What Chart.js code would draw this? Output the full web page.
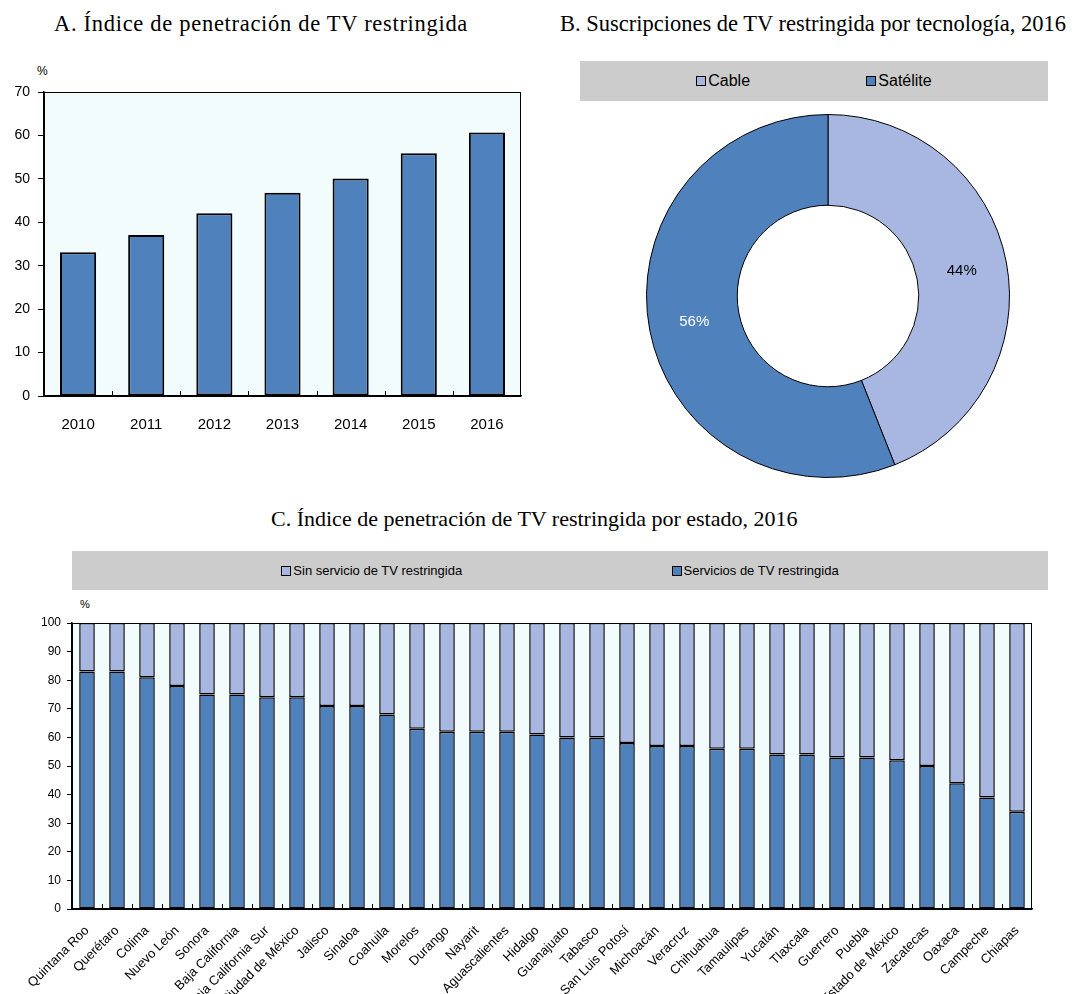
<!DOCTYPE html>
<html lang="es">
<head>
<meta charset="utf-8">
<title>TV restringida</title>
<script src="https://cdn.jsdelivr.net/npm/chart.js@4.4.1/dist/chart.umd.min.js"></script>
<style>
  body { margin: 0; width: 1072px; height: 994px; position: relative; background: #fff; overflow: hidden;
         font-family: "Liberation Sans", Arial, sans-serif; color: #000; }
  .titulo { position: absolute; font-family: "Liberation Serif", "Times New Roman", serif; font-size: 22.5px; white-space: nowrap; }
  .pct { position: absolute; font-size: 12px; }
  .leyenda { position: absolute; background: #cccccc; display: flex; justify-content: space-evenly; align-items: center; }
  .leyenda .item { display: flex; align-items: center; white-space: nowrap; }
  .leyenda i { display: inline-block; width: 8px; height: 8px; border: 1px solid #000; margin-right: 2px; }
  canvas { position: absolute; }
</style>
</head>
<body>
<div class="titulo" style="left:54px; top:11px; letter-spacing:0.7px;">A. Índice de penetración de TV restringida</div>
<div class="titulo" style="left:560px; top:11px;">B. Suscripciones de TV restringida por tecnología, 2016</div>
<div class="titulo" style="left:271px; top:506px; font-size:22px;">C. Índice de penetración de TV restringida por estado, 2016</div>

<div class="pct" style="left:37px; top:64px;">%</div>
<canvas id="graficaA" width="540" height="380" style="left:0; top:60px;"></canvas>

<div id="leyendaB" class="leyenda" style="left:580px; top:61px; width:468px; height:40px; font-size:16px;"></div>
<canvas id="graficaB" width="368" height="368" style="left:644px; top:112px;"></canvas>

<div id="leyendaC" class="leyenda" style="left:72px; top:551px; width:976px; height:39px; font-size:13px;"></div>
<div class="pct" style="left:80px; top:598px; font-size:11px;">%</div>
<canvas id="graficaC" width="1072" height="404" style="left:0; top:590px;"></canvas>

<script>
// Dades del gràfic A
const anios = ['2010', '2011', '2012', '2013', '2014', '2015', '2016'];
const penetracion = [33.1, 37.1, 42.1, 46.8, 50.1, 55.9, 60.7];

// Dades del gràfic B
const tecnologias = ['Cable', 'Satélite'];
const suscripciones = [44, 56];

// Dades del gràfic C
const estados = ['Quintana Roo', 'Querétaro', 'Colima', 'Nuevo León', 'Sonora', 'Baja California',
  'Baja California Sur', 'Ciudad de México', 'Jalisco', 'Sinaloa', 'Coahuila', 'Morelos', 'Durango',
  'Nayarit', 'Aguascalientes', 'Hidalgo', 'Guanajuato', 'Tabasco', 'San Luis Potosí', 'Michoacán',
  'Veracruz', 'Chihuahua', 'Tamaulipas', 'Yucatán', 'Tlaxcala', 'Guerrero', 'Puebla',
  'Estado de México', 'Zacatecas', 'Oaxaca', 'Campeche', 'Chiapas'];
const conServicio = [83, 83, 81, 78, 75, 75, 74, 74, 71, 71, 68, 63, 62, 62, 62, 61, 60, 60, 58, 57,
  57, 56, 56, 54, 54, 53, 53, 52, 50, 44, 39, 34];
const sinServicio = [17, 17, 19, 22, 25, 25, 26, 26, 29, 29, 32, 37, 38, 38, 38, 39, 40, 40, 42, 43,
  43, 44, 44, 46, 46, 47, 47, 48, 50, 56, 61, 66];

const azul = '#4f81bd';
const azulClaro = '#a7b7e1';

Chart.defaults.font.family = '"Liberation Sans", Arial, sans-serif';
Chart.defaults.color = '#000';
Chart.defaults.animation = false;

// Fons de l'àrea del gràfic, marc negre i marques petites entre categories
const fondoPlot = {
  id: 'fondoPlot',
  beforeDraw(chart) {
    const { ctx, chartArea: a } = chart;
    ctx.save();
    ctx.fillStyle = '#f2fcfc';
    ctx.fillRect(a.left, a.top, a.width, a.height);
    ctx.restore();
  },
  afterDraw(chart) {
    const { ctx, chartArea: a } = chart;
    const x = chart.scales.x;
    ctx.save();
    ctx.strokeStyle = '#000';
    ctx.lineWidth = 1;
    ctx.strokeRect(Math.round(a.left) + 0.5, Math.round(a.top) + 0.5, Math.round(a.width) - 1, Math.round(a.height));
    ctx.beginPath();
    for (let i = 1; i < x.ticks.length; i++) {
      const px = Math.round((x.getPixelForTick(i - 1) + x.getPixelForTick(i)) / 2) + 0.5;
      ctx.moveTo(px, a.bottom);
      ctx.lineTo(px, a.bottom - 5);
    }
    ctx.stroke();
    ctx.restore();
  }
};

// Etiquetes de percentatge dins de cada sector
const etiquetasDona = {
  id: 'etiquetasDona',
  afterDatasetsDraw(chart) {
    const { ctx } = chart;
    const meta = chart.getDatasetMeta(0);
    ctx.save();
    ctx.font = '15px "Liberation Sans", Arial, sans-serif';
    ctx.textAlign = 'center';
    ctx.textBaseline = 'middle';
    meta.data.forEach((arc, i) => {
      const p = arc.tooltipPosition();
      ctx.fillStyle = i === 0 ? '#000' : '#fff';
      ctx.fillText(chart.data.datasets[0].data[i] + '%', p.x, p.y);
    });
    ctx.restore();
  }
};

// Llegenda en HTML a partir de les dades del gràfic
const pintarLeyenda = (el, items) => {
  items.forEach(it => {
    const span = document.createElement('span');
    span.className = 'item';
    const caja = document.createElement('i');
    caja.style.background = it.color;
    span.appendChild(caja);
    span.appendChild(document.createTextNode(it.text));
    el.appendChild(span);
  });
};

// A
new Chart(document.getElementById('graficaA'), {
  type: 'bar',
  data: {
    labels: anios,
    datasets: [{
      data: penetracion,
      backgroundColor: azul,
      borderColor: '#000',
      borderWidth: 2,
      borderSkipped: false,
      barPercentage: 0.53,
      categoryPercentage: 1
    }]
  },
  options: {
    responsive: false,
    devicePixelRatio: 1,
    layout: { padding: { top: 32, right: 19, left: 0, bottom: 0 } },
    plugins: { legend: { display: false }, tooltip: { enabled: false } },
    scales: {
      x: {
        grid: { display: false },
        border: { color: '#000', width: 1.5 },
        ticks: { font: { size: 15 }, padding: 12 },
        afterFit: s => { s.height = 44; }
      },
      y: {
        min: 0, max: 70,
        ticks: { stepSize: 10, font: { size: 14 }, padding: 8 },
        grid: { drawOnChartArea: false, color: '#000', tickLength: 6 },
        border: { color: '#000', width: 1.5 },
        afterFit: s => { s.width = 44; }
      }
    }
  },
  plugins: [fondoPlot]
});

// B
const graficaB = new Chart(document.getElementById('graficaB'), {
  type: 'doughnut',
  data: {
    labels: tecnologias,
    datasets: [{
      data: suscripciones,
      backgroundColor: [azulClaro, azul],
      borderColor: '#000',
      borderWidth: 1
    }]
  },
  options: {
    responsive: false,
    devicePixelRatio: 1,
    cutout: '50%',
    layout: { padding: 2 },
    plugins: { legend: { display: false }, tooltip: { enabled: false } }
  },
  plugins: [etiquetasDona]
});
pintarLeyenda(document.getElementById('leyendaB'),
  graficaB.data.labels.map((t, i) => ({ text: t, color: graficaB.data.datasets[0].backgroundColor[i] })));

// C
const graficaC = new Chart(document.getElementById('graficaC'), {
  type: 'bar',
  data: {
    labels: estados,
    datasets: [
      { label: 'Servicios de TV restringida', data: conServicio, backgroundColor: azul },
      { label: 'Sin servicio de TV restringida', data: sinServicio, backgroundColor: azulClaro }
    ].map(d => Object.assign(d, { borderColor: '#000', borderWidth: 1.5, borderSkipped: false, barPercentage: 0.52, categoryPercentage: 1 }))
  },
  options: {
    responsive: false,
    devicePixelRatio: 1,
    layout: { padding: { top: 33, right: 40, left: 0, bottom: 0 } },
    plugins: { legend: { display: false }, tooltip: { enabled: false } },
    scales: {
      x: {
        stacked: true,
        grid: { display: false },
        border: { color: '#000', width: 1.5 },
        ticks: { font: { size: 13 }, padding: 6, maxRotation: 45, minRotation: 45, autoSkip: false },
        afterFit: s => { s.height = 85; }
      },
      y: {
        stacked: true,
        min: 0, max: 100,
        ticks: { stepSize: 10, font: { size: 12 }, padding: 6 },
        grid: { drawOnChartArea: false, color: '#000', tickLength: 5 },
        border: { color: '#000', width: 1.5 },
        afterFit: s => { s.width = 72; }
      }
    }
  },
  plugins: [fondoPlot]
});
pintarLeyenda(document.getElementById('leyendaC'),
  graficaC.data.datasets.slice().reverse().map(d => ({ text: d.label, color: d.backgroundColor })));
</script>
</body>
</html>
